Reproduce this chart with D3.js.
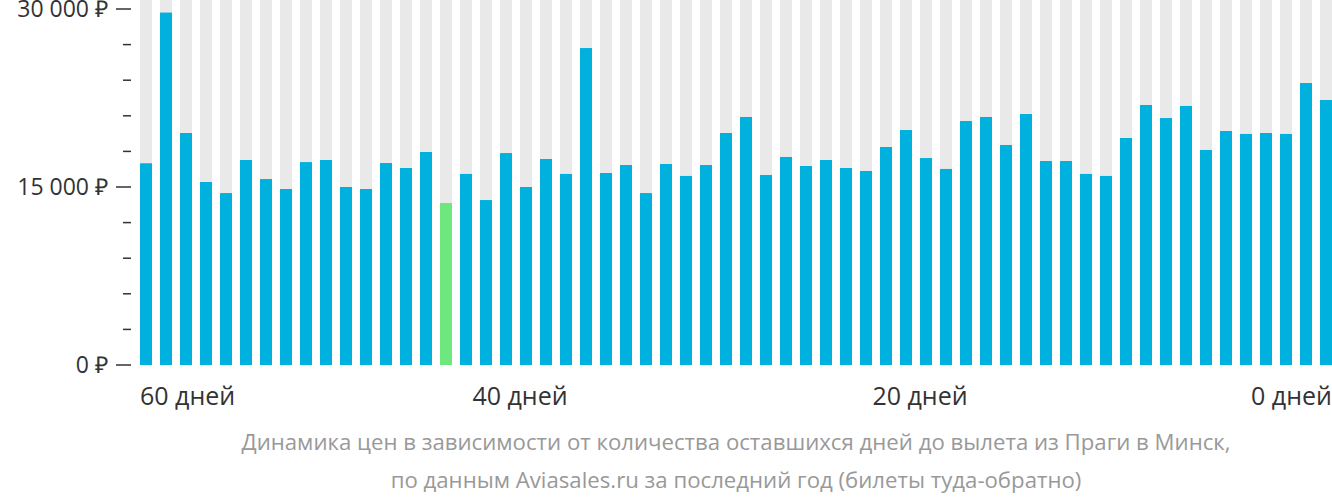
<!DOCTYPE html><html><head><meta charset="utf-8"><script src="https://cdn.jsdelivr.net/npm/d3@7"></script>
<style>body{margin:0;background:#fff;font-family:"Open Sans",sans-serif}</style></head><body><svg id="c" width="1332" height="502"></svg><script>
const days=d3.range(59,-1,-1);
const prices=[17000,29700,19550,15420,14490,17275,15670,14830,17100,17275,15000,14830,17020,16600,17950,13650,16100,13900,17860,15000,17360,16100,26710,16180,16850,14490,16940,15930,16850,19550,20900,16010,17530,16770,17275,16600,16350,18370,19800,17440,16520,20560,20900,18540,21150,17190,17190,16100,15930,19130,21910,20810,21830,18120,19720,19470,19550,19470,23760,22330];
const minIndex=15;
const yTicks=[0,15000,30000];
const dayLabels=[{i:0,t:"60 дней",a:"start"},{i:19,t:"40 дней",a:"middle"},{i:39,t:"20 дней",a:"middle"},{i:59,t:"0 дней",a:"end"}];
const svg=d3.select("#c");
const x=d3.scaleBand().domain(d3.range(prices.length)).range([140,1332]).paddingInner(0.4).paddingOuter(0);
const bw=x.bandwidth();
const y=d3.scaleLinear().domain([0,30000]).range([365,9]);
svg.selectAll(".bg").data(prices).join("rect").attr("x",(d,i)=>x(i)).attr("width",bw).attr("y",0).attr("height",y(0)).attr("fill","#e9e9e9");
svg.selectAll(".b").data(prices).join("rect").attr("x",(d,i)=>x(i)).attr("width",bw).attr("y",d=>y(d)).attr("height",d=>y(0)-y(d)).attr("fill",(d,i)=>i===minIndex?"#6ee87e":"#00b1dd");
const g=svg.append("g");
d3.range(0,30001,3000).forEach(v=>{const maj=yTicks.includes(v);g.append("line").attr("x1",maj?116:123).attr("x2",131).attr("y1",y(v)).attr("y2",y(v)).attr("stroke","#333").attr("stroke-width",1.5);});
yTicks.forEach(v=>g.append("text").attr("x",108).attr("y",y(v)+8).attr("text-anchor","end").attr("font-size",23).attr("fill","#333").text(d3.format(",")(v).replace(/,/g," ")+" ₽"));
dayLabels.forEach(d=>{let xx=d.a==="start"?x(d.i):d.a==="end"?x(d.i)+bw:x(d.i);svg.append("text").attr("x",xx).attr("y",405).attr("text-anchor",d.a).attr("font-size",25).attr("fill","#333").text(d.t);});
svg.append("text").attr("x",736).attr("y",450).attr("text-anchor","middle").attr("font-size",22.2).attr("fill","#999").text("Динамика цен в зависимости от количества оставшихся дней до вылета из Праги в Минск,");
svg.append("text").attr("x",736).attr("y",488).attr("text-anchor","middle").attr("font-size",22.2).attr("fill","#999").text("по данным Aviasales.ru за последний год (билеты туда-обратно)");
</script></body></html>
